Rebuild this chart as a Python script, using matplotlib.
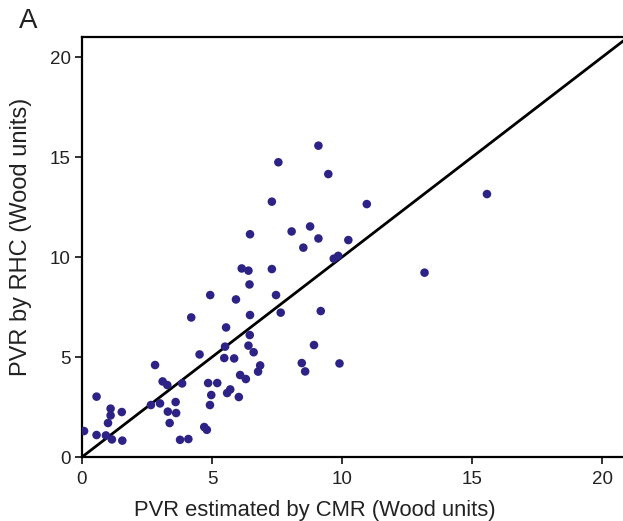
import matplotlib
matplotlib.use("Agg")
import matplotlib.pyplot as plt

plt.rcParams['font.family'] = ['Liberation Sans', 'DejaVu Sans']

# PVR estimated by CMR (x) vs PVR by RHC (y), Wood units
pvr_cmr = [0.08, 0.56, 0.56, 0.92, 1.15, 1.55, 1.10, 1.10, 1.00, 1.53,
           2.65, 3.00, 2.81, 3.10, 3.28, 3.85, 3.60, 3.62, 3.30, 3.37,
           3.77, 4.09, 4.70, 4.80, 4.85, 5.20, 4.97, 4.92, 4.52, 5.47,
           5.85, 5.50, 5.58, 5.70, 6.03, 6.08, 6.30, 6.40, 6.60, 6.85,
           6.77, 5.54, 6.45, 4.20, 6.46, 7.64, 4.93, 5.92, 7.46, 6.44,
           6.14, 6.40, 7.30, 6.46, 8.06, 8.77, 9.09, 8.51, 10.24, 9.68,
           9.85, 13.17, 9.18, 8.92, 8.45, 8.58, 9.90, 7.30, 10.95, 7.55,
           9.09, 9.47, 15.57]
pvr_rhc = [1.30, 3.02, 1.10, 1.08, 0.88, 0.82, 2.42, 2.08, 1.70, 2.25,
           2.60, 2.68, 4.60, 3.78, 3.60, 3.68, 2.75, 2.20, 2.27, 1.70,
           0.86, 0.90, 1.50, 1.36, 3.70, 3.70, 3.10, 2.60, 5.13, 4.95,
           4.93, 5.52, 3.20, 3.38, 3.00, 4.10, 3.90, 5.57, 5.24, 4.58,
           4.27, 6.48, 6.10, 6.98, 7.10, 7.22, 8.10, 7.88, 8.10, 8.63,
           9.43, 9.32, 9.40, 11.14, 11.28, 11.53, 10.93, 10.47, 10.85, 9.92,
           10.06, 9.22, 7.30, 5.60, 4.70, 4.28, 4.68, 12.77, 12.65, 14.74,
           15.57, 14.15, 13.15]

identity = [0, 22]
ticks = [0, 5, 10, 15, 20]

fig = plt.figure(figsize=(6.23, 5.21), dpi=100)
ax = fig.add_axes([0.1316, 0.1228, 0.8684, 0.806])

ax.plot(identity, identity, color='black', lw=2, zorder=2)
ax.scatter(pvr_cmr, pvr_rhc, s=38, color='#2d2387', edgecolors='none', zorder=3)

ax.set_xlim(0, 20.8)
ax.set_ylim(0, 21)
ax.set_xticks(ticks)
ax.set_yticks(ticks)
ax.spines['right'].set_visible(False)
for s in ['left', 'bottom', 'top']:
    ax.spines[s].set_linewidth(1.6)
ax.tick_params(direction='out', length=5, width=1.3, labelsize=13.5,
               colors='#222222')
ax.tick_params(axis='x', pad=5)
ax.tick_params(axis='y', pad=3)

ax.set_xlabel("PVR estimated by CMR (Wood units)", fontsize=15.8, color='#222222')
ax.xaxis.set_label_coords(0.431, -0.103)
ax.set_ylabel("PVR by RHC (Wood units)", fontsize=17, color='#222222')
ax.yaxis.set_label_coords(-0.093, 0.524)

fig.text(0.03, 0.984, "A", fontsize=20, va='top', ha='left', color='#222222')

fig.savefig("out.png", dpi=100)
